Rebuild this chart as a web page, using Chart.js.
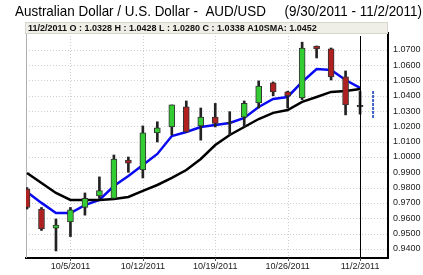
<!DOCTYPE html>
<html>
<head>
<meta charset="utf-8">
<script src="https://cdn.jsdelivr.net/npm/chart.js@4.4.0/dist/chart.umd.min.js"></script>
<style>
  html, body { margin: 0; padding: 0; background: #fff; }
  #wrap { width: 423px; height: 275px; }
</style>
</head>
<body>
<div id="wrap"><canvas id="fxChart" width="423" height="275"></canvas></div>
<script>
// trading days shown on the chart
const dates  = ['9/30','10/3','10/4','10/5','10/6','10/7','10/10','10/11','10/12','10/13','10/14','10/17',
                '10/18','10/19','10/20','10/21','10/24','10/25','10/26','10/27','10/28','10/31','11/1','11/2'];
const opens  = [0.9790,0.9660,0.9535,0.9575,0.9670,0.9745,0.9730,0.9980,0.9915,1.0157,1.0196,1.0327,
                1.0203,1.0260,1.0222,1.0260,1.0353,1.0484,1.0425,1.0386,1.0725,1.0706,1.0523,1.0328];
const highs  = [0.9800,0.9670,0.9595,0.9670,0.9765,0.9870,1.0013,1.0000,1.0203,1.0230,1.0340,1.0366,
                1.0320,1.0350,1.0296,1.0366,1.0497,1.0490,1.0430,1.0750,1.0725,1.0712,1.0562,1.0428];
const lows   = [0.9660,0.9520,0.9386,0.9480,0.9620,0.9730,0.9730,0.9900,0.9863,1.0098,1.0144,1.0163,
                1.0110,1.0196,1.0144,1.0196,1.0320,1.0400,1.0320,1.0375,1.0647,1.0503,1.0275,1.0280];
const closes = [0.9670,0.9530,0.9555,0.9654,0.9730,0.9780,0.9987,0.9960,1.0157,1.0190,1.0340,1.0163,
                1.0260,1.0220,1.0228,1.0350,1.0464,1.0425,1.0400,1.0712,1.0706,1.0523,1.0340,1.0338];
// moving averages
const smaBlue  = [0.9771,0.9700,0.9634,0.9634,0.9686,0.9719,0.9810,0.9876,0.9948,1.0020,1.0137,1.0163,
                  1.0196,1.0209,1.0222,1.0255,1.0327,1.0379,1.0392,1.0490,1.0575,1.0569,1.0503,1.0452];
const smaBlack = [0.9895,0.9830,0.9765,0.9719,0.9719,0.9719,0.9725,0.9739,0.9778,0.9817,0.9863,0.9915,
                  0.9987,1.0078,1.0144,1.0196,1.0248,1.0288,1.0307,1.0360,1.0392,1.0425,1.0431,1.0444];
// projected range for the next day (11/3)
const forecastRange = [1.0255, 1.0438];
// axis ticks
const yTicks = [0.94,0.95,0.96,0.97,0.98,0.99,1.00,1.01,1.02,1.03,1.04,1.05,1.06,1.07];
const xTickIdx = [3, 8, 13, 18, 23];
const xTickLabels = ['10/5/2011','10/12/2011','10/19/2011','10/26/2011','11/2/2011'];

const titleText = 'Australian Dollar / U.S. Dollar -  AUD/USD     (9/30/2011 - 11/2/2011)';
const infoText = '11/2/2011 O : 1.0328 H : 1.0428 L : 1.0280 C : 1.0338 A10SMA: 1.0452';

function candleColor(i) {
  if (Math.abs(closes[i] - opens[i]) < 0.0012) return '#222222';
  return closes[i] >= opens[i] ? '#33cc33' : '#b02020';
}

const bodies = dates.map((d, i) => ({ x: i, y: [opens[i], closes[i]] }));
const wicks = dates.map((d, i) => ({ x: i, y: [lows[i], highs[i]] }));

// dotted grid, header box, title and cursor line
const decor = {
  id: 'decor',
  beforeDatasetsDraw(chart) {
    const { ctx, chartArea: a, scales: { x, y } } = chart;
    ctx.save();
    ctx.strokeStyle = '#cfcfcf';
    ctx.lineWidth = 1;
    ctx.setLineDash([1, 2]);
    yTicks.forEach(v => {
      const py = Math.round(y.getPixelForValue(v)) + 0.5;
      ctx.beginPath(); ctx.moveTo(a.left, py); ctx.lineTo(a.right, py); ctx.stroke();
    });
    xTickIdx.forEach(v => {
      const px = Math.round(x.getPixelForValue(v)) + 0.5;
      ctx.beginPath(); ctx.moveTo(px, a.top); ctx.lineTo(px, a.bottom); ctx.stroke();
    });
    ctx.setLineDash([]);
    // left edge
    ctx.strokeStyle = '#b0b0b0';
    ctx.beginPath(); ctx.moveTo(a.left + 0.5, a.top); ctx.lineTo(a.left + 0.5, a.bottom); ctx.stroke();
    ctx.restore();
  },
  afterDraw(chart) {
    const { ctx, chartArea: a, scales: { x } } = chart;
    ctx.save();
    // small tick marks under the date axis
    ctx.strokeStyle = '#555';
    ctx.lineWidth = 1;
    xTickIdx.forEach(v => {
      const px = Math.round(x.getPixelForValue(v)) + 0.5;
      ctx.beginPath(); ctx.moveTo(px, a.bottom); ctx.lineTo(px, a.bottom + 3); ctx.stroke();
    });
    // cursor line at last day
    const cx = Math.round(x.getPixelForValue(23)) + 0.5;
    ctx.strokeStyle = '#000';
    ctx.beginPath(); ctx.moveTo(cx, a.top + 3); ctx.lineTo(cx, a.bottom); ctx.stroke();
    // header box
    ctx.fillStyle = '#efefe7';
    ctx.fillRect(a.left - 1, 22, a.right - a.left + 1, 12);
    ctx.strokeStyle = '#d6d6cc';
    ctx.strokeRect(a.left - 0.5, 22.5, a.right - a.left, 11);
    ctx.fillStyle = '#111';
    ctx.font = 'bold 9px "Liberation Sans", Arial, sans-serif';
    ctx.textBaseline = 'middle';
    ctx.textAlign = 'left';
    ctx.fillText(infoText, 28, 28.5, 335);
    // title
    ctx.font = '15px "Liberation Sans", Arial, sans-serif';
    ctx.fillStyle = '#000';
    ctx.fillText(titleText, 15, 12, 407);
    ctx.restore();
  }
};

new Chart(document.getElementById('fxChart'), {
  type: 'bar',
  data: {
    datasets: [
      {
        type: 'bar', data: bodies, order: 0,
        backgroundColor: dates.map((d, i) => candleColor(i)),
        borderColor: '#333', borderWidth: 1, borderSkipped: false,
        barThickness: 6, grouped: false
      },
      {
        type: 'bar', data: wicks, order: 1,
        backgroundColor: '#222', borderWidth: 0,
        barThickness: 2, grouped: false
      },
      {
        type: 'line', data: [{ x: 23.9, y: forecastRange[0] }, { x: 23.9, y: forecastRange[1] }], order: 1,
        borderColor: '#3f64c8', borderWidth: 2, borderDash: [3, 1], pointRadius: 0
      },
      {
        type: 'line', data: smaBlack.map((v, i) => ({ x: i, y: v })), order: 2,
        borderColor: '#000', borderWidth: 2.5, pointRadius: 0, tension: 0
      },
      {
        type: 'line', data: smaBlue.map((v, i) => ({ x: i, y: v })), order: 2,
        borderColor: '#0a0af0', borderWidth: 2.5, pointRadius: 0, tension: 0
      }
    ]
  },
  options: {
    responsive: false,
    animation: false,
    layout: { padding: { left: 26, top: 33, right: 0, bottom: 0 } },
    plugins: { legend: { display: false }, tooltip: { enabled: false }, title: { display: false } },
    scales: {
      x: {
        type: 'linear', offset: false,
        min: -0.07, max: 24.93,
        afterBuildTicks: s => { s.ticks = xTickIdx.map(v => ({ value: v })); },
        afterFit: s => { s.height = 17; },
        ticks: {
          autoSkip: false, maxRotation: 0, padding: 3,
          color: '#222', font: { family: '"Liberation Sans", Arial, sans-serif', size: 9 },
          callback: v => xTickLabels[xTickIdx.indexOf(v)]
        },
        grid: { display: false, drawTicks: false, offset: false },
        border: { display: true, color: '#000', width: 2 }
      },
      y: {
        position: 'right',
        min: 0.934, max: 1.081,
        afterBuildTicks: s => { s.ticks = yTicks.map(v => ({ value: v })); },
        afterFit: s => { s.width = 35; },
        ticks: {
          padding: 5, color: '#222',
          font: { family: '"Liberation Sans", Arial, sans-serif', size: 9 },
          callback: v => v.toFixed(4)
        },
        grid: { display: false, drawTicks: false },
        border: { display: true, color: '#000', width: 2 }
      }
    }
  },
  plugins: [decor]
});
</script>
</body>
</html>
